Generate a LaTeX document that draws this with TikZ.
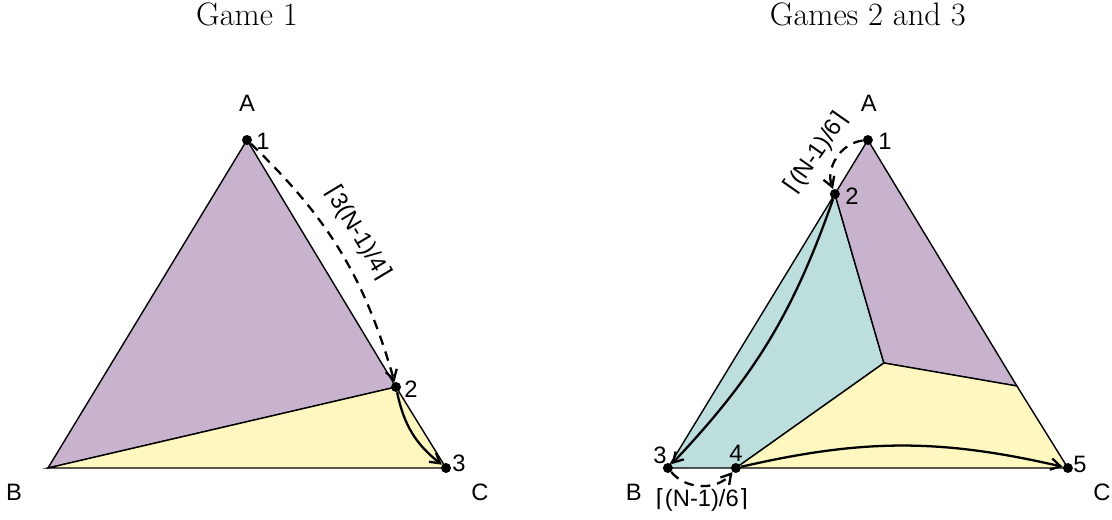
\documentclass[tikz,border=0pt]{standalone}
\usepackage{fontspec}
\newfontfamily\labelfont{Liberation Sans}
\newfontfamily\ceilfont{DejaVu Sans}
\usepackage{tikz}
\usetikzlibrary{arrows.meta}
\definecolor{purp}{HTML}{C7B3CD}
\definecolor{yell}{HTML}{FFF7C0}
\definecolor{teal}{HTML}{BCDEDD}
\newcommand{\lc}{{\ceilfont ⌈}}
\newcommand{\rc}{{\ceilfont ⌉}}

\begin{document}
\begin{tikzpicture}[x=0.02cm, y=-0.02cm, >={Straight Barb[length=5.5pt, width=6.5pt]},
  title/.style={font=\fontsize{18.5}{21}\selectfont},
  lbl/.style={font=\labelfont\fontsize{13.5}{15}\selectfont, inner sep=0pt},
  region/.style={draw, line width=0.8pt},
  dot/.style={circle, fill, inner sep=0pt, minimum size=0.2cm},
  move/.style={->, line width=1.3pt},
  jump/.style={move, dash pattern=on 5.5pt off 4pt}]
  \useasboundingbox (0,0) rectangle (1112,520);
  % Game 1 panel
  \node[title] (t1) at (247,14) {Game 1};
  \coordinate (A1) at (247,140);
  \coordinate (B1) at (48,468);
  \coordinate (C1) at (446,468);
  \coordinate (M1) at (396,387);
  \filldraw[region, fill=purp] (A1) -- (B1) -- (M1) -- cycle;
  \filldraw[region, fill=yell] (B1) -- (M1) -- (C1) -- cycle;
  \node[dot] (p1) at (A1) {};
  \node[dot] (p2) at (M1) {};
  \node[dot] (p3) at (C1) {};
  \draw[jump] (p1) to[bend left=15] (p2);
  \draw[move] (p2) to[bend right=20] (p3);
  \node[lbl] (a1) at (247,103) {A};
  \node[lbl] (b1) at (14,492) {B};
  \node[lbl] (c1) at (480,492) {C};
  \node[lbl] (n1) at (263,141) {1};
  \node[lbl] (n2) at (411,389) {2};
  \node[lbl] (n3) at (459,463) {3};
  \node[lbl, rotate=-59] (k1) at (358,233) {\lc3(N-1)/4\rc};
  % Games 2 and 3 panel
  \begin{scope}[xshift=12.42cm]
  \node[title] (t2) at (247,14) {Games 2 and 3};
  \coordinate (A2) at (247,140);
  \coordinate (B2) at (47,468);
  \coordinate (C2) at (447,468);
  \coordinate (M2) at (214,194);
  \coordinate (P2) at (263,363);
  \coordinate (Q2) at (396,386);
  \coordinate (D2) at (115,468);
  \filldraw[region, fill=teal] (B2) -- (M2) -- (P2) -- (D2) -- cycle;
  \filldraw[region, fill=purp] (M2) -- (A2) -- (Q2) -- (P2) -- cycle;
  \filldraw[region, fill=yell] (P2) -- (Q2) -- (C2) -- (D2) -- cycle;
  \node[dot] (q1) at (A2) {};
  \node[dot] (q2) at (M2) {};
  \node[dot] (q3) at (B2) {};
  \node[dot] (q4) at (D2) {};
  \node[dot] (q5) at (C2) {};
  \draw[jump] (q1) to[bend right=52] (q2);
  \draw[move] (q2) to[bend left=12] (q3);
  \draw[jump] (q3) to[bend right=50] (q4);
  \draw[move] (q4) to[bend left=13] (q5);
  \node[lbl] (a2) at (248,103) {A};
  \node[lbl] (b2) at (13,492) {B};
  \node[lbl] (c2) at (481,492) {C};
  \node[lbl] (m1) at (264,141) {1};
  \node[lbl] (m2) at (231,196) {2};
  \node[lbl] (m3) at (39,455) {3};
  \node[lbl] (m4) at (115,453) {4};
  \node[lbl] (m5) at (459,464) {5};
  \node[lbl, rotate=55] (k2) at (196,153) {\lc(N-1)/6\rc};
  \node[lbl] (k3) at (81,500) {\lc(N-1)/6\rc};
  \end{scope}
\end{tikzpicture}
\end{document}
